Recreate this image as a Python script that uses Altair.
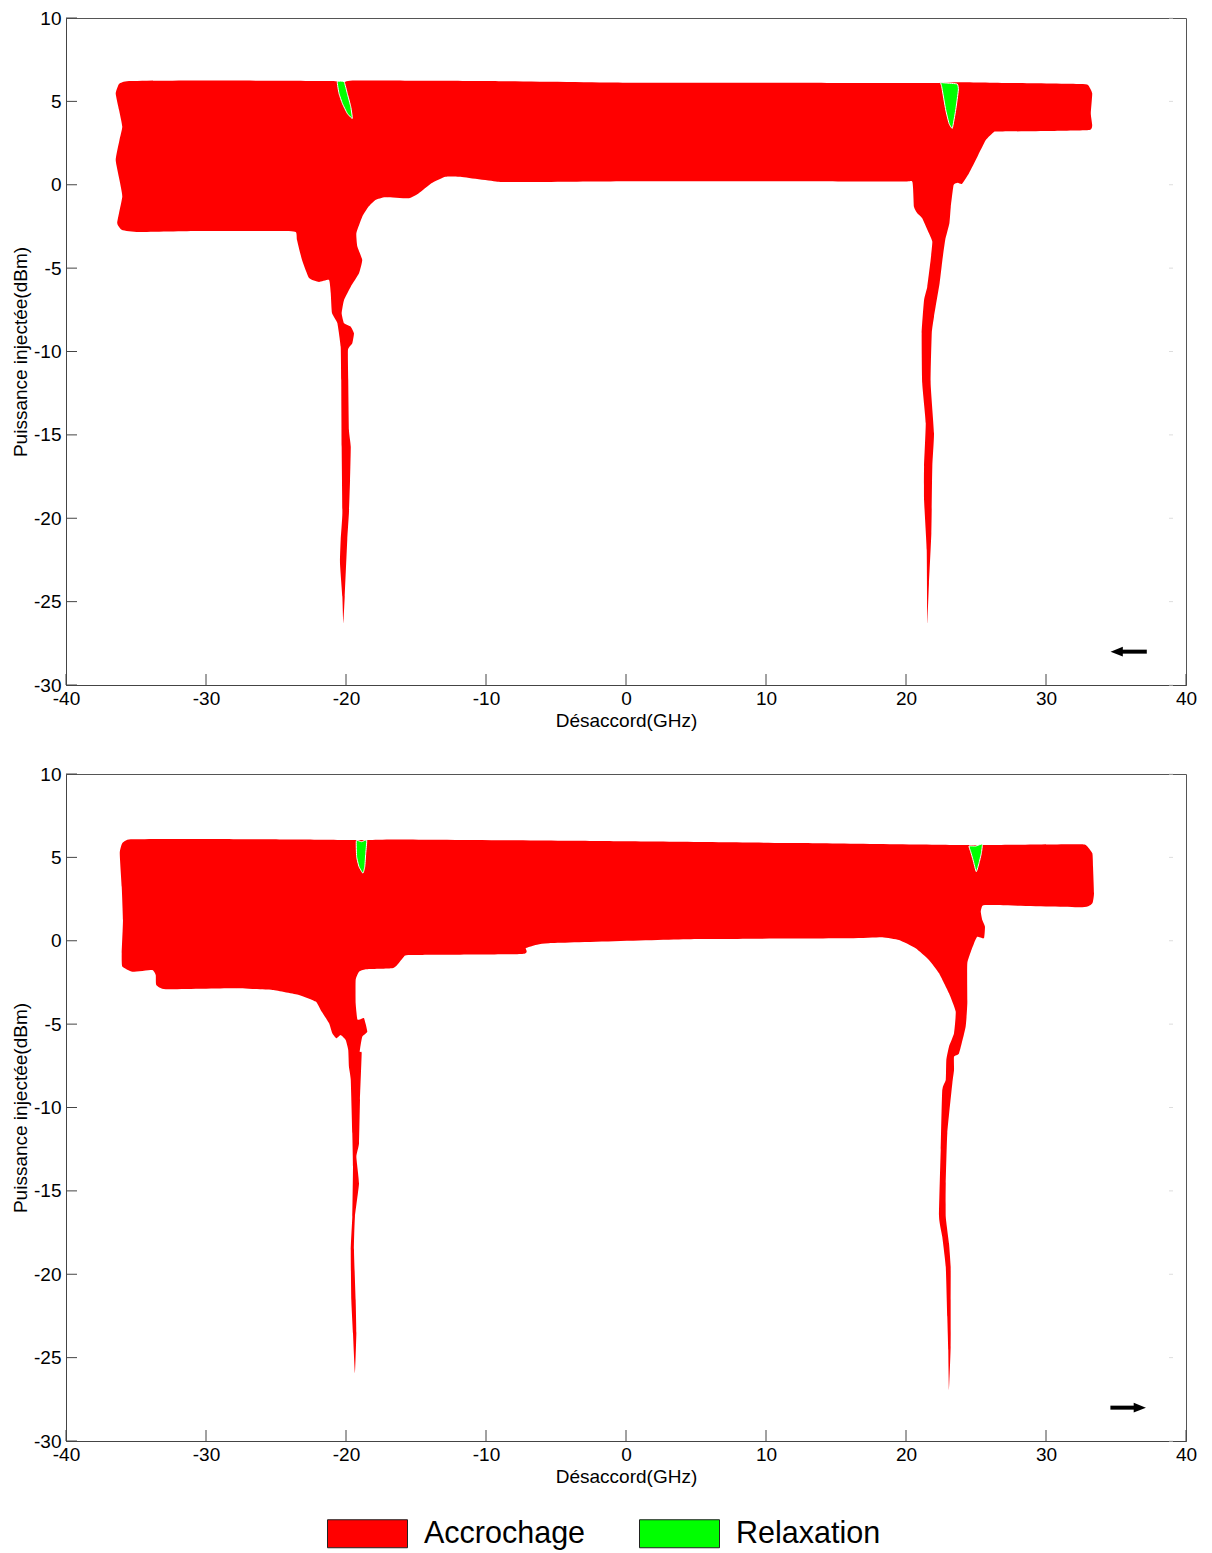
import altair as alt
import pandas as pd

# ---------------- data ----------------
X_TICKS = [-40, -30, -20, -10, 0, 10, 20, 30, 40]
Y_TICKS = [-30, -25, -20, -15, -10, -5, 0, 5, 10]
CATEGORIES = ["Accrochage", "Relaxation"]
COLORS = ["#ff0000", "#00ff00"]

# upper panel : locking region (red), clockwise outline (GHz, dBm)
top_red = [
    (-36.2, 6.05), (-35.5, 6.22), (-30.0, 6.25), (-25.0, 6.24), (-21.0, 6.22), (-20.2, 6.15),
    (-19.3, 6.25), (-10.0, 6.22), (0.0, 6.12), (10.0, 6.12), (20.0, 6.1), (22.0, 6.1),
    (23.9, 6.15), (27.6, 6.1), (32.4, 6.04), (33.0, 5.98),
    (33.3, 5.48), (33.2, 4.28), (33.3, 3.58), (33.1, 3.28), (30.2, 3.22), (26.6, 3.19),
    (26.3, 3.18), (25.7, 2.68), (25.1, 1.68), (24.5, 0.69), (24.0, 0.05), (23.7, 0.12),
    (23.4, -0.01), (23.2, -1.32), (23.1, -2.31), (22.8, -3.31), (22.6, -4.51), (22.4, -5.91),
    (22.0, -7.91), (21.84, -8.91), (21.76, -11.91), (22.0, -14.91), (21.88, -16.91),
    (21.81, -20.9), (21.64, -23.9), (21.52, -26.3),
    (21.48, -21.9), (21.29, -18.9), (21.29, -16.9), (21.41, -14.3), (21.16, -11.9),
    (21.12, -8.9), (21.29, -6.91), (21.52, -6.11), (21.76, -4.51), (21.88, -3.42),
    (21.64, -2.91), (21.16, -2.01), (20.81, -1.71), (20.57, -1.32), (20.45, 0.18),
    (19.5, 0.19), (5.2, 0.21), (-1.9, 0.2), (-7.6, 0.16), (-9.1, 0.18), (-11.9, 0.48),
    (-12.9, 0.48), (-13.9, 0.09), (-14.8, -0.51), (-15.5, -0.81), (-17.2, -0.75),
    (-17.9, -0.91), (-18.4, -1.32), (-18.84, -1.92), (-19.26, -2.91), (-19.19, -3.71),
    (-18.84, -4.51), (-19.07, -5.31), (-19.66, -6.11), (-20.14, -6.91), (-20.31, -7.71),
    (-20.14, -8.31), (-19.66, -8.51), (-19.43, -8.91), (-19.55, -9.51), (-19.86, -9.91),
    (-19.84, -11.71), (-19.79, -14.71), (-19.66, -15.71), (-19.71, -17.71), (-19.79, -19.69),
    (-19.91, -21.3), (-20.09, -24.7), (-20.19, -26.3),
    (-20.26, -24.7), (-20.43, -22.68), (-20.38, -21.3), (-20.26, -19.69), (-20.31, -15.71),
    (-20.34, -11.71), (-20.38, -9.71), (-20.62, -8.29), (-21.0, -7.69), (-21.09, -6.49),
    (-21.21, -5.71), (-21.93, -5.83), (-22.64, -5.59), (-23.14, -4.51), (-23.5, -3.31),
    (-23.59, -2.83), (-24.8, -2.78), (-30.5, -2.77), (-34.8, -2.83), (-36.0, -2.71),
    (-36.34, -2.29), (-35.98, -0.72), (-36.18, 0.28), (-36.45, 1.48), (-36.18, 2.68),
    (-35.98, 3.48), (-36.21, 4.48), (-36.45, 5.48),
]
# upper panel : relaxation pockets (green)
top_green_left = [
    (-20.62, 6.18), (-20.14, 6.18), (-19.91, 5.48), (-19.66, 4.68), (-19.55, 3.98),
    (-19.91, 4.28), (-20.26, 4.88), (-20.5, 5.48),
]
top_green_right = [
    (22.48, 6.12), (22.84, 6.1), (23.66, 6.04), (23.74, 5.68), (23.55, 4.48), (23.31, 3.39),
    (23.07, 3.69), (22.84, 4.48), (22.55, 5.88),
]

# lower panel : locking region (red)
bot_red = [
    (-35.98, 5.84), (-35.38, 6.08), (-30.5, 6.1), (-23.36, 6.07), (-19.79, 6.04),
    (-18.36, 6.04), (-16.21, 6.07), (-1.93, 5.98), (12.36, 5.86), (23.79, 5.74),
    (26.14, 5.74), (32.12, 5.78), (32.84, 5.74),
    (33.31, 5.24), (33.36, 4.44), (33.43, 2.85), (33.31, 2.25), (32.59, 2.01),
    (25.93, 2.14), (25.45, 2.08), (25.34, 1.74), (25.45, 1.24), (25.64, 0.84), (25.57, 0.15),
    (25.09, 0.24), (24.86, -0.15), (24.38, -1.35), (24.38, -3.75), (24.26, -5.15),
    (23.79, -6.75), (23.43, -6.95), (23.43, -7.75), (23.31, -8.55), (22.95, -11.55),
    (22.84, -14.55), (22.84, -16.55), (23.07, -18.14), (23.19, -19.55), (23.19, -21.54),
    (23.19, -24.35), (23.07, -26.94),
    (23.02, -24.54), (22.95, -22.55), (22.84, -19.55), (22.59, -17.75), (22.36, -16.55),
    (22.48, -12.55), (22.59, -8.95), (22.84, -8.35), (22.88, -7.15), (23.07, -6.35),
    (23.43, -5.55), (23.55, -4.25), (23.07, -3.15), (22.36, -1.95), (21.64, -1.15),
    (20.69, -0.45), (19.5, 0.04), (18.31, 0.21),
    (15.93, 0.15), (5.21, 0.1), (-5.5, -0.15), (-6.69, -0.31), (-7.16, -0.45), (-7.41, -0.79),
    (-15.38, -0.85), (-15.86, -0.96), (-16.34, -1.45), (-16.69, -1.65), (-18.59, -1.71),
    (-19.07, -1.86), (-19.31, -2.35), (-19.31, -3.75), (-19.19, -4.71), (-18.95, -4.71),
    (-18.71, -4.65), (-18.48, -5.45), (-18.84, -5.75), (-19.02, -6.65), (-18.88, -6.75),
    (-19.0, -9.55), (-19.07, -12.15), (-19.26, -12.95), (-19.07, -14.55), (-19.36, -16.55),
    (-19.43, -18.55), (-19.31, -21.54), (-19.26, -23.54), (-19.36, -25.94),
    (-19.5, -23.54), (-19.62, -21.54), (-19.66, -18.55), (-19.55, -16.55), (-19.5, -13.55),
    (-19.55, -11.55), (-19.66, -8.35), (-19.79, -7.55), (-19.84, -6.55), (-20.02, -5.95),
    (-20.38, -5.65), (-20.69, -5.85), (-20.98, -5.55), (-21.21, -4.95), (-21.81, -4.15),
    (-22.16, -3.65), (-23.36, -3.25), (-25.26, -2.95), (-28.12, -2.85), (-32.88, -2.91),
    (-33.55, -2.65), (-33.59, -2.05), (-33.84, -1.75), (-35.26, -1.86), (-35.98, -1.55),
    (-36.02, -0.75), (-35.93, 1.24), (-36.02, 3.24), (-36.16, 5.24),
]
bot_green_left = [
    (-19.26, 6.0), (-18.88, 5.94), (-18.52, 6.04), (-18.59, 5.24), (-18.66, 4.44),
    (-18.79, 4.05), (-19.07, 4.44), (-19.24, 5.04),
]
bot_green_right = [
    (24.5, 5.68), (24.98, 5.68), (25.45, 5.8), (25.38, 5.24), (25.21, 4.64), (25.02, 4.14),
    (24.79, 4.84), (24.62, 5.34),
]

# sweep-direction arrows (shaft start, shaft end, head centre, level)
top_arrow = {"x1": 37.2, "x2": 35.4, "head": 35.05, "y": -28.0, "dir": "left"}
bot_arrow = {"x1": 34.6, "x2": 36.4, "head": 36.7, "y": -28.0, "dir": "right"}

# ---------------- helpers ----------------
W, H = 1120, 667
FONT = "Liberation Sans"
X_TITLE = "Désaccord(GHz)"
Y_TITLE = "Puissance injectée(dBm)"

xscale = alt.Scale(domain=[-40, 40], nice=False, zero=False)
yscale = alt.Scale(domain=[-30, 10], nice=False, zero=False)
cscale = alt.Scale(domain=CATEGORIES, range=COLORS)

legend = alt.Legend(
    orient="none", legendX=261, legendY=1475, direction="horizontal", title=None,
    symbolType="M-1,-0.35L1,-0.35L1,0.35L-1,0.35Z", symbolSize=6400,
    symbolStrokeColor="#222", symbolStrokeWidth=1, symbolOpacity=1,
    labelFont=FONT, labelFontSize=30.5, labelColor="black", labelOffset=16,
    labelLimit=400, columnPadding=51, padding=0,
)


def xaxis():
    return alt.Axis(values=X_TICKS, title=X_TITLE, ticks=False, labelPadding=4,
                    titlePadding=3, labelExpr="'' + datum.value", labelFlush=False)


def yaxis():
    return alt.Axis(values=Y_TICKS, title=Y_TITLE, ticks=False, labelPadding=5,
                    titlePadding=3, labelExpr="'' + datum.value")


def polys_df(polys, kind):
    rows = []
    for pid, pts in enumerate(polys):
        for i, (x, y) in enumerate(pts):
            rows.append({"poly": f"{kind}{pid}", "type": kind, "i": i, "x": x, "y": y})
    return pd.DataFrame(rows)


def panel(red_polys, green_polys, arrow):
    enc = dict(
        x=alt.X("x:Q", scale=xscale, axis=xaxis()),
        y=alt.Y("y:Q", scale=yscale, axis=yaxis()),
        order=alt.Order("i:Q"),
        detail="poly:N",
        color=alt.Color("type:N", scale=cscale, legend=legend),
    )
    red = alt.Chart(polys_df(red_polys, "Accrochage")).mark_line(
        filled=True, interpolate="cardinal-closed", tension=0.6, opacity=1).encode(**enc)
    green = alt.Chart(polys_df(green_polys, "Relaxation")).mark_line(
        filled=True, interpolate="cardinal-closed", tension=0.6, stroke="white",
        strokeWidth=1, opacity=1).encode(**enc)

    xt = pd.DataFrame({"v": X_TICKS})
    yt = pd.DataFrame({"v": Y_TICKS})
    xticks = alt.Chart(xt).mark_rule(color="#444", strokeWidth=1).encode(
        x=alt.X("v:Q", scale=xscale, axis=xaxis()), y=alt.value(H), y2=alt.value(H - 11))
    yticks = alt.Chart(yt).mark_rule(color="#444", strokeWidth=1).encode(
        y=alt.Y("v:Q", scale=yscale, axis=yaxis()), x=alt.value(0), x2=alt.value(11))
    yticks_r = alt.Chart(yt).mark_rule(color="#dddddd", strokeWidth=1).encode(
        y=alt.Y("v:Q", scale=yscale, axis=yaxis()), x=alt.value(W - 17), x2=alt.value(W - 13))

    adf = pd.DataFrame([arrow])
    shaft = alt.Chart(adf).mark_rule(color="black", strokeWidth=4).encode(
        x=alt.X("x1:Q", scale=xscale, axis=xaxis()), x2="x2:Q",
        y=alt.Y("y:Q", scale=yscale, axis=yaxis()))
    head_shape = "M-1,0L1,-0.8L1,0.8Z" if arrow["dir"] == "left" else "M1,0L-1,-0.8L-1,0.8Z"
    head = alt.Chart(adf).mark_point(shape=head_shape, filled=True, color="black",
                                     size=150, opacity=1).encode(
        x=alt.X("head:Q", scale=xscale, axis=xaxis()),
        y=alt.Y("y:Q", scale=yscale, axis=yaxis()))

    return alt.layer(red, green, xticks, yticks, yticks_r, shaft, head).properties(
        width=W, height=H)


top = panel([top_red], [top_green_left, top_green_right], top_arrow)
bottom = panel([bot_red], [bot_green_left, bot_green_right], bot_arrow)

chart = (
    alt.vconcat(top, bottom, spacing=33)
    .resolve_scale(color="shared")
    .resolve_legend(color="shared")
    .properties(padding={"left": 3, "top": 0, "right": 5, "bottom": 0})
    .configure(font=FONT)
    .configure_axis(grid=False, labelFont=FONT, titleFont=FONT, labelFontSize=19,
                    titleFontSize=19, labelColor="black", titleColor="black",
                    titleFontWeight="normal", domainColor="#444", domainWidth=1)
    .configure_view(stroke="#555", strokeWidth=1)
)

chart.save("out.html", embed_options={"renderer": "svg", "actions": False})
